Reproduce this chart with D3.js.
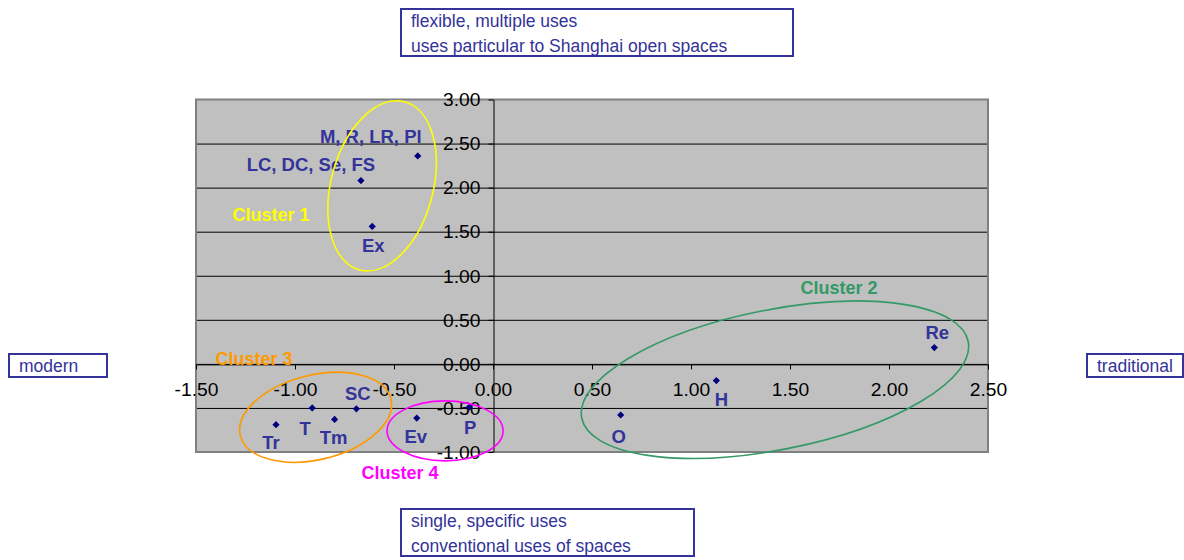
<!DOCTYPE html>
<html><head><meta charset="utf-8">
<script src="https://cdn.jsdelivr.net/npm/d3@7"></script>
<style>
body{margin:0;background:#fff;}
text{font-family:Arial,"Liberation Sans",Helvetica,sans-serif;}
</style></head>
<body><svg id="c" width="1184" height="560"></svg>
<script>
// ---- data ----
const pointNames = ["M, R, LR, Pl","LC, DC, Se, FS","Ex","Tr","T","Tm","SC","Ev","P","O","H","Re"];
const xValues = [-0.38,-0.667,-0.61,-1.096,-0.913,-0.80,-0.69,-0.385,-0.12,0.645,1.128,2.229];
const yValues = [2.36,2.08,1.56,-0.69,-0.50,-0.63,-0.51,-0.615,-0.49,-0.58,-0.19,0.185];
const xTicks = [-1.5,-1.0,-0.5,0,0.5,1.0,1.5,2.0,2.5];
const yTicks = [-1.0,-0.5,0,0.5,1.0,1.5,2.0,2.5,3.0];
const clusterNames = ["Cluster 1","Cluster 2","Cluster 3","Cluster 4"];
const clusterCx = [-0.56,1.424,-0.896,-0.242];
const clusterCy = [2.02,-0.18,-0.606,-0.76];
const clusterLabelX = [-1.121,1.748,-1.207,-0.47];
const clusterLabelY = [1.70,0.861,0.057,-1.234];
const topBoxLines = ["flexible, multiple uses","uses particular to Shanghai open spaces"];
const bottomBoxLines = ["single, specific uses","conventional uses of spaces"];
const leftLabel = "modern";
const rightLabel = "traditional";

// ---- styles / layout ----
const labelOffsets = [[-47,-20],[-50,-16],[1,19],[-5,18],[-7,20],[-1,18],[1.5,-15],[-1,18],[1,20],[-2,21],[5,19],[3,-15]];
const clusterColors = ["#ffff00","#339966","#ff9900","#ff00ff"];
const ellipseShape = [[51,87,15],[197,70,-11.2],[77.5,42.3,-13.7],[58,30,0]]; // rx, ry, rotate(deg)
const boxColor = "#333399";

const svg = d3.select("#c");
const x = d3.scaleLinear().domain([-1.5,2.5]).range([196,988]);
const y = d3.scaleLinear().domain([-1,3]).range([452,99.5]);

// plot area
svg.append("rect").attr("x",x(-1.5)).attr("y",y(3)).attr("width",x(2.5)-x(-1.5)).attr("height",y(-1)-y(3))
  .attr("fill","#c0c0c0");
// gridlines
svg.append("g").selectAll("line").data(yTicks.filter(d=>d>-1 && d<3)).join("line")
  .attr("x1",x(-1.5)).attr("x2",x(2.5)).attr("y1",d=>y(d)+0.5).attr("y2",d=>y(d)+0.5)
  .attr("stroke","#000").attr("stroke-width",1);
// border
svg.append("rect").attr("x",x(-1.5)).attr("y",y(3)).attr("width",x(2.5)-x(-1.5)).attr("height",y(-1)-y(3))
  .attr("fill","none").attr("stroke","#808080").attr("stroke-width",2);

// axes
const loc = d3.formatLocale({decimal:".",thousands:",",grouping:[3],currency:["$",""],minus:"-"});
const fmt = loc.format(".2f");
const sx = 1.1;
const yAxis = d3.axisLeft(y).tickValues(yTicks).tickFormat(fmt).tickSize(5).tickSizeOuter(0);
const gy = svg.append("g").attr("transform",`translate(${x(0)+0.5},0)`).call(yAxis);
const xAxis = d3.axisBottom(x).tickValues(xTicks).tickFormat(fmt).tickSize(5).tickSizeOuter(0);
const gx = svg.append("g").attr("transform",`translate(0,${y(0)+0.5})`).call(xAxis);
[gx,gy].forEach(g=>{
  g.select(".domain").attr("stroke","#000");
  g.selectAll(".tick line").attr("stroke","#000");
  g.selectAll(".tick text").attr("fill","#000").style("font-size","17.5px");
});
gy.selectAll(".tick text").attr("x",-13/sx).attr("dy","0.36em").attr("transform",`scale(${sx},1)`);
gx.selectAll(".tick text").attr("y",19).attr("dy","0.71em").attr("transform",`scale(${sx},1)`);

// points
const pts = pointNames.map((n,i)=>({name:n,x:xValues[i],y:yValues[i],off:labelOffsets[i]}));
svg.append("g").selectAll("path").data(pts).join("path")
  .attr("d",d3.symbol(d3.symbolSquare,26))
  .attr("transform",d=>`translate(${x(d.x)},${y(d.y)}) rotate(45)`)
  .attr("fill","#000080");
svg.append("g").selectAll("text").data(pts).join("text")
  .attr("x",d=>x(d.x)+d.off[0]).attr("y",d=>y(d.y)+d.off[1])
  .attr("dy","0.36em").attr("text-anchor","middle")
  .attr("fill","#333399").style("font-size","18.5px").style("font-weight","bold")
  .text(d=>d.name);

// cluster labels
const cls = clusterNames.map((n,i)=>({name:n,cx:clusterCx[i],cy:clusterCy[i],lx:clusterLabelX[i],ly:clusterLabelY[i],col:clusterColors[i],sh:ellipseShape[i]}));
svg.append("g").selectAll("text").data(cls).join("text")
  .attr("x",d=>x(d.lx)).attr("y",d=>y(d.ly)).attr("dy","0.36em").attr("text-anchor","middle")
  .attr("fill",d=>d.col).style("font-size","18px").style("font-weight","bold").text(d=>d.name);
// ellipses
svg.append("g").selectAll("ellipse").data(cls).join("ellipse")
  .attr("transform",d=>`translate(${x(d.cx)},${y(d.cy)}) rotate(${d.sh[2]})`)
  .attr("rx",d=>d.sh[0]).attr("ry",d=>d.sh[1])
  .attr("fill","none").attr("stroke",d=>d.col).attr("stroke-width",1.6);

// boxes
function box(bx,by,w,h,lines,lh){
  const g = svg.append("g");
  g.append("rect").attr("x",bx).attr("y",by).attr("width",w).attr("height",h)
    .attr("fill","#fff").attr("stroke",boxColor).attr("stroke-width",2);
  g.selectAll("text").data(lines).join("text")
    .attr("x",bx+10).attr("y",(d,i)=>by+12+i*lh).attr("dy","0.36em")
    .attr("fill",boxColor).style("font-size","17.5px").text(d=>d);
}
box(401,9,392,47,topBoxLines,25);
box(401,509,293,47,bottomBoxLines,25);
box(9,354,98,23,[leftLabel],0);
box(1087,354,96,23,[rightLabel],0);
</script></body></html>
